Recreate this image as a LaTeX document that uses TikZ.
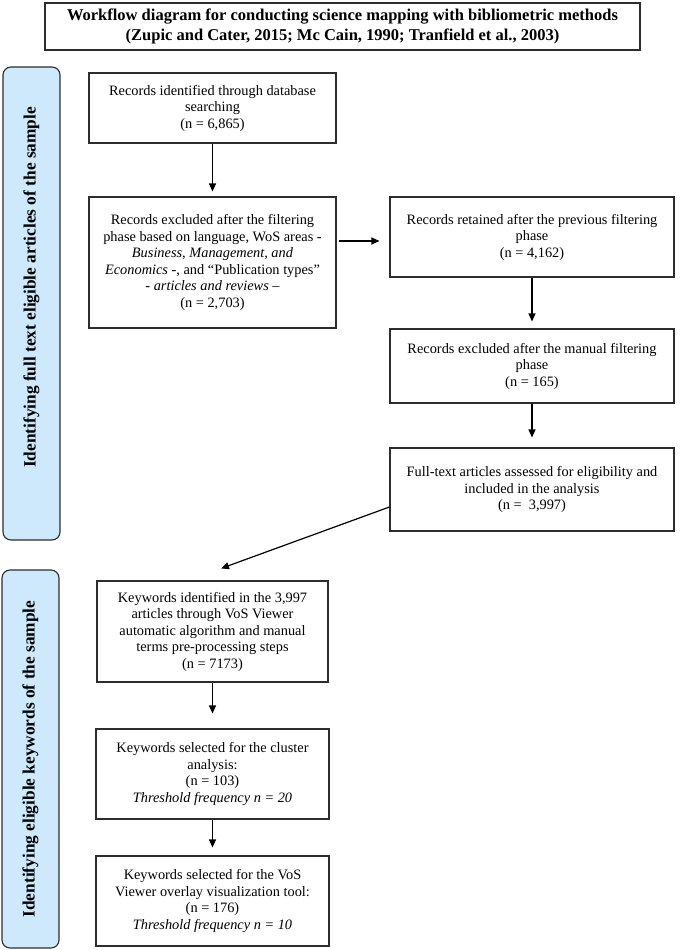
\documentclass[tikz,border=0pt]{standalone}
\usepackage{fontspec}
\setmainfont{Liberation Serif}
\usetikzlibrary{
  shapes,
  calc,
  positioning,
  arrows.meta
}
\definecolor{phaseblue}{RGB}{205,233,251}
\definecolor{boxline}{RGB}{45,45,45}

\begin{document}
\begin{tikzpicture}[x=1pt, y=-1pt,
    font=\fontsize{14.35}{16.5}\selectfont,
    box/.style = {rectangle, draw=boxline, line width=1.1pt, align=center, inner sep=2pt},
    phase/.style = {rectangle, rounded corners=8pt, draw=boxline, line width=1.1pt,
      fill=phaseblue, rotate=90, minimum height=57pt, inner sep=0pt,
      font=\fontsize{17.3}{20}\selectfont\bfseries},
    arr/.style = {-{Triangle[length=8pt,width=7pt]}, line width=1.2pt}]

    \useasboundingbox (0,0) rectangle (685,950);

    \node[box, minimum width=595pt, minimum height=47pt, font=\fontsize{16.5}{20}\selectfont\bfseries]
      (title) at (342.5,26.5) {Workflow diagram for conducting science mapping with bibliometric methods\\
      (Zupic and Cater, 2015; Mc Cain, 1990; Tranfield et al., 2003)};

    \node[phase, minimum width=473pt] (ph1) at (31.5,303.5)
      {\hspace*{32pt}Identifying full text eligible articles of the sample};
    \node[phase, minimum width=378pt] (ph2) at (30.5,759)
      {Identifying eligible keywords of the sample};

    \node[box, minimum width=247pt, minimum height=70pt] (ident) at (212.5,108)
      {Records identified through database\\ searching\\ (n = 6,865)};
    \node[box, minimum width=247pt, minimum height=131pt] (excl) at (212.5,262.5)
      {Records excluded after the filtering\\ phase based on language, WoS areas -\\
      \textit{Business, Management, and}\\ \textit{Economics} -, and ``Publication types''\\
      - \textit{articles and reviews} --\\ (n = 2,703)};
    \node[box, minimum width=284pt, minimum height=80pt] (kept) at (532,237)
      {Records retained after the previous filtering\\ phase\\ (n = 4,162)};
    \node[box, minimum width=284pt, minimum height=74pt] (manual) at (532,366)
      {Records excluded after the manual filtering\\ phase\\ (n = 165)};
    \node[box, minimum width=284pt, minimum height=83pt] (full) at (532,489.5)
      {Full-text articles assessed for eligibility and\\ included in the analysis\\ (n = \ 3,997)};

    \node[box, minimum width=231pt, minimum height=101pt] (kw) at (212.5,631.5)
      {Keywords identified in the 3,997\\ articles through VoS Viewer\\ automatic algorithm and manual\\
      terms pre-processing steps\\ (n = 7173)};
    \node[box, minimum width=233pt, minimum height=90pt] (clus) at (212.5,774)
      {Keywords selected for the cluster\\ analysis:\\ (n = 103)\\ \textit{Threshold frequency n = 20}};
    \node[box, minimum width=233pt, minimum height=90pt] (over) at (212.5,901)
      {Keywords selected for the VoS\\ Viewer overlay visualization tool:\\ (n = 176)\\
      \textit{Threshold frequency n = 10}};

    \coordinate (side) at ([yshift=21.5pt]excl.east);
    \coordinate (diag) at ([yshift=-17.5pt]full.west);

    \draw[arr, shorten >=5pt] (ident) -- (excl);
    \draw[arr, shorten <=2pt, shorten >=10pt] (side) -- (side -| kept.west);
    \draw[arr, shorten >=7pt] (kept) -- (manual);
    \draw[arr, shorten >=10pt] (manual) -- (full);
    \draw[arr] (diag) -- ([xshift=8.5pt,yshift=12pt]kw.north);
    \draw[arr, shorten >=15pt] (kw) -- (clus);
    \draw[arr, shorten >=8pt] (clus) -- (over);
\end{tikzpicture}
\end{document}
